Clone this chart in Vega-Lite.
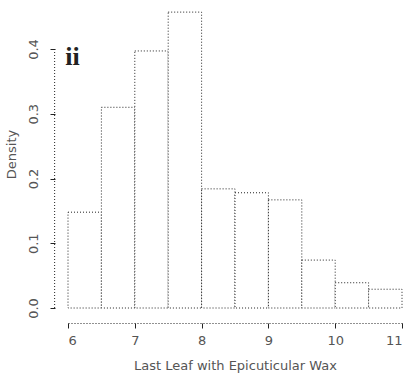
{
  "$schema": "https://vega.github.io/schema/vega-lite/v6.json",
  "width": 334,
  "height": 308,
  "autosize": {"type": "none"},
  "padding": {"left": 68, "top": 0, "right": 12, "bottom": 65},
  "background": "white",
  "config": {
    "view": {"stroke": null},
    "axis": {
      "grid": false,
      "domainColor": "#222",
      "domainDash": [1, 2],
      "tickColor": "#222",
      "tickSize": 5,
      "labelFont": "DejaVu Sans",
      "labelFontSize": 13,
      "labelColor": "#555",
      "titleFont": "DejaVu Sans",
      "titleFontSize": 13,
      "titleFontWeight": "normal",
      "titleColor": "#555"
    }
  },
  "layer": [
    {
      "data": {
        "values": [
          {"bin_start": 6.0, "bin_end": 6.5, "density": 0.148},
          {"bin_start": 6.5, "bin_end": 7.0, "density": 0.31},
          {"bin_start": 7.0, "bin_end": 7.5, "density": 0.397},
          {"bin_start": 7.5, "bin_end": 8.0, "density": 0.457},
          {"bin_start": 8.0, "bin_end": 8.5, "density": 0.184},
          {"bin_start": 8.5, "bin_end": 9.0, "density": 0.178},
          {"bin_start": 9.0, "bin_end": 9.5, "density": 0.167},
          {"bin_start": 9.5, "bin_end": 10.0, "density": 0.074},
          {"bin_start": 10.0, "bin_end": 10.5, "density": 0.039},
          {"bin_start": 10.5, "bin_end": 11.0, "density": 0.029}
        ]
      },
      "mark": {"type": "rect", "fill": "white", "stroke": "#222", "strokeWidth": 1, "strokeDash": [1, 2]},
      "encoding": {
        "x": {
          "field": "bin_start",
          "type": "quantitative",
          "scale": {"domain": [6, 11], "nice": false, "zero": false},
          "axis": {
            "values": [6, 7, 8, 9, 10, 11],
            "format": "d",
            "offset": 15,
            "labelPadding": 6,
            "titlePadding": 12,
            "title": "Last Leaf with Epicuticular Wax"
          }
        },
        "x2": {"field": "bin_end"},
        "y": {
          "field": "density",
          "type": "quantitative",
          "scale": {"domain": [0, 0.4757], "nice": false},
          "axis": {
            "values": [0, 0.1, 0.2, 0.3, 0.4],
            "format": ".1f",
            "offset": 13,
            "domain": false,
            "labelAngle": -90,
            "labelAlign": "center",
            "labelBaseline": "bottom",
            "labelPadding": 10,
            "titlePadding": 9,
            "title": "Density"
          }
        },
        "y2": {"datum": 0}
      }
    },
    {
      "data": {"values": [{"axis_x": 5.8, "lo": 0, "hi": 0.4}]},
      "mark": {"type": "rule", "stroke": "#222", "strokeWidth": 1, "strokeDash": [1, 2]},
      "encoding": {
        "x": {"field": "axis_x", "type": "quantitative"},
        "y": {"field": "lo", "type": "quantitative"},
        "y2": {"field": "hi"}
      }
    },
    {
      "data": {"values": [{"label": "ii", "x": 5.96, "y": 0.375}]},
      "mark": {"type": "text", "font": "Liberation Serif", "fontWeight": "bold", "fontSize": 26, "align": "left", "baseline": "alphabetic", "color": "#222"},
      "encoding": {
        "x": {"field": "x", "type": "quantitative"},
        "y": {"field": "y", "type": "quantitative"},
        "text": {"field": "label"}
      }
    }
  ]
}
